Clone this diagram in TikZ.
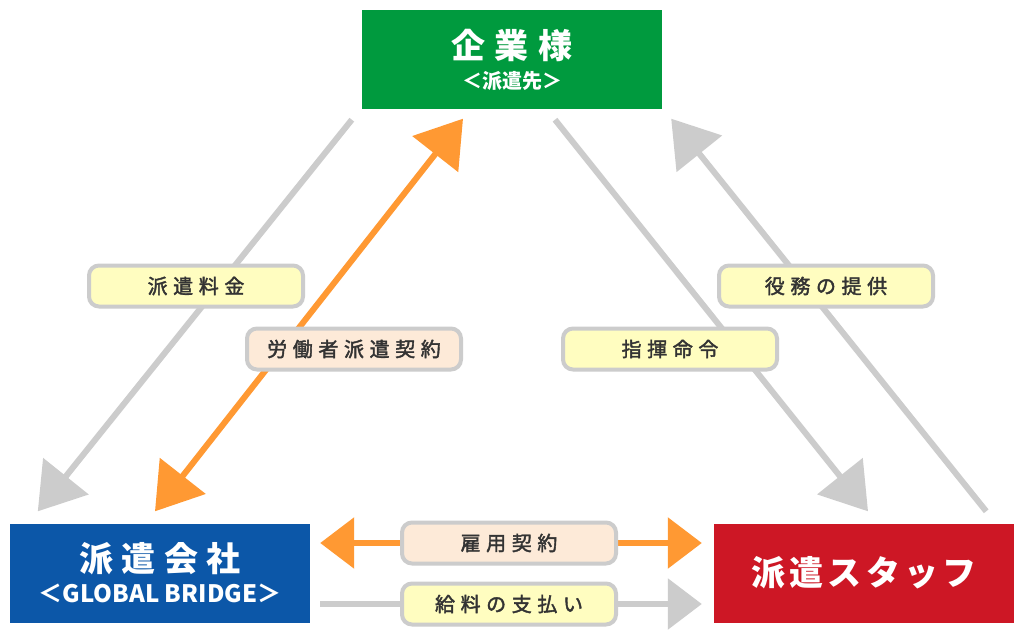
\documentclass[tikz,border=0pt]{standalone}
\usepackage{fontspec}
\usetikzlibrary{arrows.meta}
\newfontfamily\jpfont{Noto Sans CJK JP}

\definecolor{clientgreen}{RGB}{0,154,62}
\definecolor{agencyblue}{RGB}{12,87,168}
\definecolor{staffred}{RGB}{205,23,37}
\definecolor{deedorange}{RGB}{255,153,51}
\definecolor{flowgray}{RGB}{204,204,204}
\definecolor{noteyellow}{RGB}{255,253,192}
\definecolor{notepeach}{RGB}{253,234,216}
\definecolor{notetext}{RGB}{51,51,51}

\tikzset{
  party/.style={minimum width=300pt,minimum height=99pt,inner sep=0pt,text=white,align=center,font=\jpfont\bfseries},
  note/.style={draw=flowgray,line width=4pt,rounded corners=10pt,minimum width=214pt,minimum height=41pt,inner sep=0pt,text=notetext,
    font=\jpfont\fontsize{20}{24}\selectfont\addfontfeature{LetterSpace=28,FakeBold=2}},
  yellownote/.style={note,fill=noteyellow},
  peachnote/.style={note,fill=notepeach},
  flowline/.style={draw=flowgray,line width=6pt},
  deedline/.style={draw=deedorange,line width=6pt},
  slanthead/.style={-{Triangle[length=45pt,width=57pt]}},
  flathead/.style={-{Triangle[length=34pt,width=50pt]}},
  slanthead2/.style={{Triangle[length=45pt,width=57pt]}-{Triangle[length=45pt,width=57pt]}},
  flathead2/.style={{Triangle[length=34pt,width=50pt]}-{Triangle[length=34pt,width=50pt]}}
}
\newcommand\sublinefont[1]{\fontsize{#1}{#1}\selectfont}

\begin{document}
\begin{tikzpicture}[x=1pt,y=-1pt]
\useasboundingbox[fill=white] (0,0) rectangle (1024,639);

\node[party,fill=clientgreen] (client) at (512,60)
  {{\fontsize{34}{38}\selectfont\addfontfeature{LetterSpace=28}企業様}\\[9pt]
   {\sublinefont{20}＜派遣先＞}};
\node[party,fill=agencyblue] (agency) at (160,573)
  {{\fontsize{34}{38}\selectfont\addfontfeature{LetterSpace=25}派遣会社}\\[8pt]
   {\sublinefont{24}＜GLOBAL BRIDGE＞}};
\node[party,fill=staffred] (staff) at (864,573)
  {\fontsize{34}{38}\selectfont\addfontfeature{LetterSpace=12}派遣スタッフ};

% ends of the connectors
\coordinate (fee-s) at ([xshift=-10pt,yshift=-10pt]client.south west);
\coordinate (fee-e) at ([xshift=28pt,yshift=12pt]agency.north west);
\coordinate (deed-s) at ([xshift=-49pt,yshift=-9pt]client.south);
\coordinate (deed-e) at ([xshift=-5pt,yshift=12pt]agency.north);
\coordinate (order-s) at ([xshift=43pt,yshift=-10pt]client.south);
\coordinate (order-e) at ([xshift=4pt,yshift=12pt]staff.north);
\coordinate (work-s) at ([xshift=-28pt,yshift=12pt]staff.north east);
\coordinate (work-e) at ([xshift=9pt,yshift=-9pt]client.south east);
\coordinate (hire-s) at ([xshift=10pt,yshift=30pt]agency.east);
\coordinate (hire-e) at ([xshift=-12pt,yshift=30pt]staff.west);
\coordinate (pay-s) at ([xshift=10pt,yshift=-31pt]agency.east);
\coordinate (pay-e) at ([xshift=-12pt,yshift=-31pt]staff.west);

\path[flowline,slanthead] (fee-s) -- (fee-e);
\path[deedline,slanthead2] (deed-e) -- (deed-s);
\path[flowline,slanthead] (order-s) -- (order-e);
\path[flowline,slanthead] (work-s) -- (work-e);
\path[deedline,flathead2] (hire-s) -- (hire-e);
\path[flowline,flathead] (pay-s) -- (pay-e);

\node[yellownote] (fee) at (196,286) {派遣料金};
\node[peachnote] (deed) at (354,349) {労働者派遣契約};
\node[yellownote] (work) at (826,286) {役務の提供};
\node[yellownote] (order) at (670,349) {指揮命令};
\node[peachnote] (hire) at (509,543) {雇用契約};
\node[yellownote] (pay) at (509,604) {給料の支払い};
\end{tikzpicture}
\end{document}
